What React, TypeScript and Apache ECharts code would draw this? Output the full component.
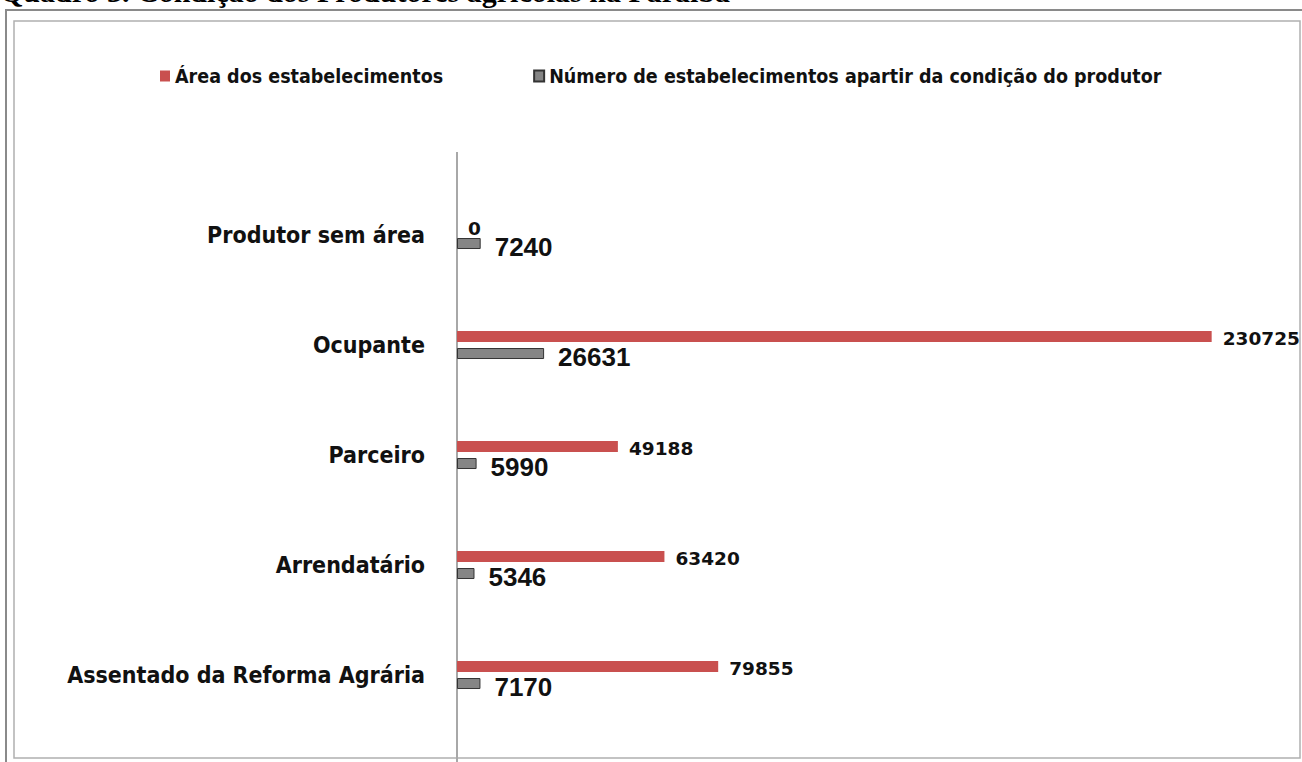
import React, { useEffect, useRef } from "react";
import * as echarts from "echarts";

const categories = [
  "Produtor sem área",
  "Ocupante",
  "Parceiro",
  "Arrendatário",
  "Assentado da Reforma Agrária",
];
const areaValues = [0, 230725, 49188, 63420, 79855];
const numeroValues = [7240, 26631, 5990, 5346, 7170];
const seriesNames = [
  "Área dos estabelecimentos",
  "Número de estabelecimentos apartir da condição do produtor",
];

export default function App() {
  const ref = useRef<HTMLDivElement>(null);
  useEffect(() => {
    if (!ref.current) return;
    const chart = echarts.init(ref.current, null, { renderer: "svg" });
    const narrow = "'DejaVu Sans Condensed', 'DejaVu Sans', sans-serif";
    chart.setOption({
      animation: false,
      backgroundColor: "#ffffff",
      legend: {
        top: 61,
        left: 155,
        itemWidth: 10,
        itemHeight: 11,
        itemGap: 90,
        icon: "rect",
        textStyle: { fontFamily: narrow, fontWeight: "bold", fontSize: 19.5, color: "#111" },
        data: seriesNames,
      },
      grid: { left: 457, top: 180, height: 550, width: 785 },
      xAxis: {
        type: "value",
        min: 0,
        max: 240000,
        show: false,
      },
      yAxis: {
        type: "category",
        data: categories,
        inverse: true,
        axisLine: { show: false },
        axisTick: { show: false },
        axisLabel: {
          margin: 32,
          fontFamily: narrow,
          fontWeight: "bold",
          fontSize: 23,
          color: "#111",
        },
      },
      graphic: [
        {
          type: "text",
          left: 0,
          top: -24,
          style: {
            text: "Quadro 3. Condição dos Produtores agrícolas na Paraíba",
            font: "bold 30px 'Liberation Serif', serif",
            fill: "#000",
          },
        },
        {
          type: "rect",
          shape: { x: 6, y: 10, width: 1310, height: 760 },
          style: { fill: "none", stroke: "#8a8a8a", lineWidth: 2 },
        },
        {
          type: "rect",
          shape: { x: 14, y: 21, width: 1286, height: 737 },
          style: { fill: "none", stroke: "#b0b0b0", lineWidth: 1.5 },
        },
        {
          type: "line",
          shape: { x1: 457, y1: 152, x2: 457, y2: 762 },
          style: { stroke: "#a8a8a8", lineWidth: 2 },
        },
      ],
      series: [
        {
          name: seriesNames[0],
          type: "bar",
          data: areaValues,
          barWidth: 11,
          barGap: "55%",
          itemStyle: { color: "#C9504F" },
          label: {
            show: true,
            position: "right",
            distance: 11,
            fontFamily: "'DejaVu Sans', sans-serif",
            fontWeight: "bold",
            fontSize: 18.5,
            color: "#111",
            offset: [0, 2],
          },
        },
        {
          name: seriesNames[1],
          type: "bar",
          data: numeroValues,
          barWidth: 11,
          itemStyle: { color: "#858585", borderColor: "#333", borderWidth: 1 },
          label: {
            show: true,
            position: "right",
            distance: 14,
            fontFamily: "'Liberation Sans', sans-serif",
            fontWeight: "bold",
            fontSize: 26,
            color: "#111",
            offset: [0, 3],
          },
        },
      ],
    });
    return () => chart.dispose();
  }, []);
  return (
    <div
      ref={ref}
      style={{ position: "absolute", left: 0, top: 0, width: 1302, height: 762 }}
    />
  );
}
